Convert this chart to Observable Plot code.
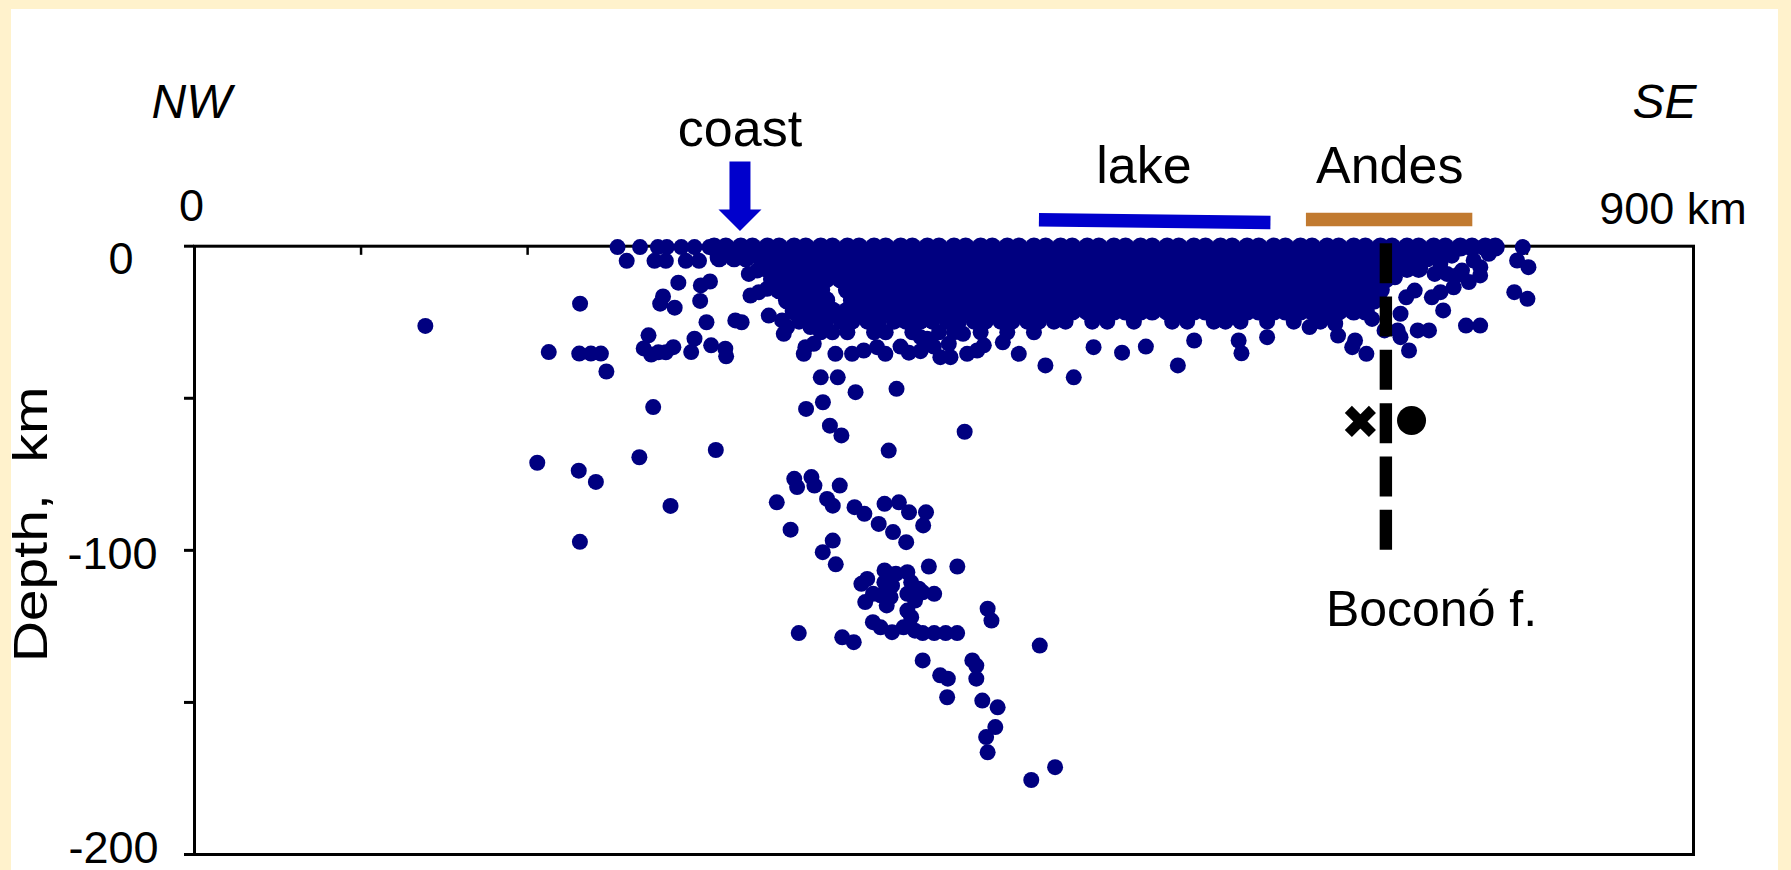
<!DOCTYPE html>
<html>
<head>
<meta charset="utf-8">
<script src="https://cdn.jsdelivr.net/npm/d3@7"></script>
<script src="https://cdn.jsdelivr.net/npm/@observablehq/plot@0.6"></script>
<style>
  html, body { margin: 0; padding: 0; background: #fff2cc; }
  #chart { padding: 9px 0 0 11px; }
  svg text { white-space: pre; }
</style>
</head>
<body>
<div id="chart"></div>
<script>
// ---------- axis values ----------
const distTicks = [100, 200, 300, 400, 500, 600, 700, 800];
const depthTicks = [0, -50, -100, -150, -200];

// ---------- sparse hypocentres: distance along profile (km), depth (km) ----------
const sparseDist = [
  138.6, 231.5, 212.7, 231.0, 238.0, 244.0, 247.3, 272.6, 269.7, 274.2, 278.5, 283.0, 287.5,
  281.3, 279.6, 288.3, 290.5, 303.6, 304.0, 309.5, 307.4, 300.2, 298.2, 310.2, 318.7, 319.2,
  275.4, 324.7, 328.5, 333.8, 338.8, 343.8, 332.8, 337.8, 344.8, 353.8, 355.8, 352.8, 367.8,
  371.8, 375.8, 369.8, 366.8, 365.8, 371.8, 376.0, 386.2, 396.9, 421.5, 367.2, 377.3, 381.5,
  388.4, 416.8, 384.8, 394.8, 401.8, 409.8, 414.8, 423.9, 428.9, 435.9, 443.9, 453.9, 463.9,
  469.9, 473.9, 494.9, 510.9, 431.9, 435.9, 439.9, 452.9, 447.8, 461.4, 485.3, 527.9, 539.8,
  556.9, 571.2, 590.4, 600.2, 626.9, 628.6, 644.0, 669.5, 676.3, 684.9, 686.6, 695.1, 696.8,
  703.6, 707.0, 714.5, 462.4, 267.1, 313.0, 205.8, 230.7, 241.0, 285.8, 231.4,
  254.0, 267.5, 278.2, 283.6, 292.3, 300.2, 309.2, 259.5, 276.2, 283.0, 295.0, 302.9,
  720.7, 727.5, 732.6, 724.1, 722.4, 729.2, 724.1, 734.4, 741.2, 742.9, 748.1, 749.7, 756.0,
  763.4, 771.9, 744.6, 752.0, 748.0, 754.9, 761.0, 758.0, 765.1, 771.9, 768.0, 772.0, 777.1,
  797.5, 794.1, 800.9, 792.4, 800.3
];
const sparseDepth = [
  -26.2, -18.9, -34.8, -35.3, -35.3, -35.3, -41.2, -29.3, -33.6, -35.6, -34.9, -34.9, -33.2,
  -16.5, -18.9, -20.2, -12.0, -18.0, -12.9, -11.6, -25.0, -30.4, -34.8, -32.6, -33.7, -36.2,
  -52.9, -24.4, -25.0, -16.2, -15.1, -14.0, -9.1, -8.0, -22.8, -28.8, -26.6, -24.4, -22.2,
  -24.4, -26.6, -26.6, -33.2, -35.4, -32.1, -43.1, -43.1, -48.0, -46.9, -53.5, -51.3, -59.0,
  -62.2, -67.2, -35.4, -35.4, -34.3, -33.2, -35.4, -33.0, -35.0, -34.5, -33.0, -36.5, -35.4,
  -34.3, -32.6, -35.4, -39.2, -27.7, -29.9, -30.4, -32.1, -36.5, -28.8, -31.6, -43.1, -33.2,
  -35.0, -33.0, -39.2, -31.0, -31.0, -35.2, -29.9, -26.6, -24.4, -25.5, -29.4, -33.2, -31.0,
  -35.4, -23.9, -27.7, -61.0, -69.4, -67.0, -71.2, -73.8, -77.5, -85.4, -97.2,
  -0.3, -0.3, -0.3, -0.3, -0.3, -0.3, -0.3, -4.8, -4.8, -4.8, -4.8, -4.8,
  -10.2, -16.8, -14.6, -22.2, -27.7, -34.3, -29.9, -27.7, -27.7, -16.8, -15.1, -21.1, -13.5,
  -26.1, -26.1, -9.1, -9.1, -5.8, -3.1, -8.0, -9.6, -11.8, -9.6, -4.7, -6.9, -2.5,
  -0.3, -4.7, -6.9, -15.1, -17.3
];

// ---------- subducting slab (intermediate-depth events) ----------
const slabDist = [
  360.1, 370.4, 361.8, 372.2, 387.4, 349.6, 379.8, 383.2, 357.9, 396.3, 402.2, 410.8, 419.4,
  414.3, 422.9, 383.2, 377.2, 385.0, 400.4, 403.9, 407.4, 414.3, 421.1, 429.0, 439.2, 437.5,
  427.3, 440.9, 458.0, 428.0, 430.3, 434.9, 428.0, 444.1, 437.2, 432.6, 428.0, 430.3, 425.7,
  432.6, 416.5, 414.2, 418.8, 411.9, 415.6, 417.9, 402.7, 407.3, 411.9, 418.8, 437.2, 444.1,
  451.0, 457.9, 362.8, 388.9, 395.8, 476.2, 478.5, 507.5, 437.2, 467.0, 469.4, 469.4, 447.7,
  452.3, 451.9, 473.0, 482.2, 480.8, 475.3, 476.2, 516.7, 502.4
];
const slabDepth = [
  -76.5, -75.9, -79.2, -78.7, -78.7, -84.2, -83.1, -85.3, -93.2, -85.8, -88.0, -91.3, -94.0,
  -84.7, -84.2, -96.8, -100.6, -104.6, -111.0, -109.4, -114.3, -106.6, -107.7, -87.5, -87.5, -91.8,
  -97.3, -105.3, -105.3, -107.2, -110.5, -112.6, -114.3, -114.3, -113.8, -116.5, -119.8, -122.0, -125.3,
  -126.4, -107.7, -110.5, -111.6, -114.8, -118.1, -115.4, -117.0, -123.6, -125.3, -126.9, -127.2, -127.2,
  -127.2, -127.2, -127.2, -128.6, -130.2, -119.2, -123.1, -131.3, -136.2, -136.2, -137.9, -142.2, -141.1,
  -142.2, -148.3, -149.4, -151.6, -158.1, -161.4, -166.4, -171.3, -175.5
];

// ---------- dense crustal band: distances of events, one list per depth row ----------
const bandDepths = [-0.3, -3.8, -7.3, -10.8, -14.3, -17.8, -21.3];
const bandRowA = [312, 319, 328, 335, 344, 351, 360, 367, 376, 383, 392, 399, 408, 415, 424, 431, 440, 447, 456, 463, 472, 479, 488, 495, 504, 511, 520, 527, 536, 543, 552, 559, 568, 575, 584, 591, 600, 607, 616, 623, 632, 639, 648, 655, 664, 671, 680, 687, 696, 703, 712, 719, 728, 735, 744, 751, 760, 767, 775, 781];
const bandRowB = [315, 324, 331, 340, 347, 356, 363, 372, 379, 388, 395, 404, 411, 420, 427, 436, 443, 452, 459, 468, 475, 484, 491, 500, 507, 516, 523, 532, 539, 548, 555, 564, 571, 580, 587, 596, 603, 612, 619, 628, 635, 644, 651, 660, 667, 676, 683, 692, 699, 708, 715, 724, 731, 740, 747];
const bandRowC = [344, 351, 360, 367, 376, 383, 392, 399, 408, 415, 424, 431, 440, 447, 456, 463, 472, 479, 488, 495, 504, 511, 520, 527, 536, 543, 552, 559, 568, 575, 584, 591, 600, 607, 616, 623, 632, 639, 648, 655, 664, 671, 680, 687, 696, 703, 712, 719, 728, 735];
const bandRowD = [347, 356, 363, 372, 379, 388, 395, 404, 411, 420, 427, 436, 443, 452, 459, 468, 475, 484, 491, 500, 507, 516, 523, 532, 539, 548, 555, 564, 571, 580, 587, 596, 603, 612, 619, 628, 635, 644, 651, 660, 667, 676, 683, 692, 699, 708, 715];
const bandRowE = [351, 360, 367, 376, 392, 399, 408, 415, 424, 431, 440, 447, 456, 463, 472, 479, 488, 495, 504, 511, 520, 527, 536, 543, 552, 559, 568, 575, 584, 591, 600, 607, 616, 623, 632, 639, 648, 655, 664, 671, 680, 687, 696, 703, 712];
const bandRowF = [356, 363, 372, 379, 395, 404, 411, 420, 427, 436, 443, 452, 459, 468, 475, 484, 491, 500, 507, 516, 523, 532, 539, 548, 555, 564, 571, 580, 587, 596, 603, 612, 619, 628, 635, 644, 651, 660, 667, 676, 683, 692, 699, 708];
const bandRowG = [360, 367, 376, 383, 392, 399, 408, 415, 424, 431, 440, 447, 456, 463, 472, 479, 488, 495, 504, 511, 520, 527, 536, 543, 552, 559, 568, 575, 584, 591, 600, 607, 616, 623, 632, 639, 648, 655, 664, 671, 680, 687, 696, 703];
const bandRows = [bandRowA, bandRowB, bandRowC, bandRowD, bandRowE, bandRowF, bandRowG];
// ragged lower fringe of the band
const fringeDepths = [-24.8, -28.3];
const fringeRowH = [363, 372, 379, 388, 395, 404, 411, 420, 427, 436, 443, 452, 459, 468, 475, 484, 491, 500, 507, 516, 523, 539, 548, 564, 587, 596, 612, 619, 628, 644, 660, 676];
const fringeRowI = [376, 383, 392, 408, 415, 431, 447, 456, 472, 488, 504];
const fringeRows = [fringeRowH, fringeRowI];

// ---------- annotations ----------
const coastDist = 327.5;
const rangeNames = ["lake", "Andes"];
const rangeStart = [507, 667.6];
const rangeEnd = [646, 767.5];
const rangeLevelStart = [8.7, 8.8];
const rangeLevelEnd = [7.8, 8.8];
const rangeLabelDist = [570, 717.6];
const rangeColors = ["#0000cc", "#c17a30"];
const faultName = "Boconó f.";
const faultDist = 715.3;
const faultTop = 0.8, faultBottom = -100.2;
const faultLabelDist = 742.7, faultLabelDepth = -125;
const stationMarks = [
  {dist: 700.0, depth: -57.6, kind: "cross"},
  {dist: 730.7, depth: -57.3, kind: "dot"}
];
const directionNames = ["NW", "SE"];
const directionDist = [-1.8, 882.6];
const depthTitle = "Depth,  km";

// build tables for the library
const quakes = [
  ...sparseDist.map((x, i) => ({x, d: sparseDepth[i]})),
  ...slabDist.map((x, i) => ({x, d: slabDepth[i]})),
  ...fringeRows.flatMap((row, j) => row.map(x => ({x, d: fringeDepths[j]})))
];
const bandQuakes = bandRows.flatMap((row, j) => row.map(x => ({x, d: bandDepths[j]})));
const lakeLine = [
  {x: rangeStart[0], y: rangeLevelStart[0]},
  {x: rangeEnd[0], y: rangeLevelEnd[0]}
];
const andesBar = [{x1: rangeStart[1], x2: rangeEnd[1], y: rangeLevelStart[1]}];

const arrowShape = {
  draw(context, l) {
    const shaft = 10.5, head = 21.5, headLen = 21.5;
    context.moveTo(-shaft, 0);
    context.lineTo(-shaft, -(l - headLen));
    context.lineTo(-head, -(l - headLen));
    context.lineTo(0, -l);
    context.lineTo(head, -(l - headLen));
    context.lineTo(shaft, -(l - headLen));
    context.lineTo(shaft, 0);
    context.closePath();
  }
};

const font = "'Liberation Sans', Arial, Helvetica, sans-serif";
const labelFmt = d => `${d}`;
const quakeColor = "#000080";

const chart = Plot.plot({
  width: 1767,
  height: 861,
  marginLeft: 183,
  marginRight: 85,
  marginTop: 236.7,
  marginBottom: 16,
  style: {background: "#ffffff", fontFamily: font, color: "#000", overflow: "visible"},
  x: {domain: [0, 900], label: null},
  y: {domain: [-200, 0], label: null},
  marks: [
    Plot.frame({stroke: "#000", strokeWidth: 3}),
    Plot.ruleX(distTicks, {y1: 0, y2: -3, stroke: "#000", strokeWidth: 2.5}),
    Plot.ruleY(depthTicks, {x1: 0, x2: -6, stroke: "#000", strokeWidth: 3}),
    Plot.axisX([0], {anchor: "top", tickSize: 0, tickPadding: 25.7, dx: -3, fontSize: 45, tickFormat: labelFmt, label: null}),
    Plot.axisX([900], {anchor: "top", tickSize: 0, tickPadding: 22.7, dx: -20.5, fontSize: 45, tickFormat: d => `${d} km`, label: null}),
    Plot.axisY([0], {anchor: "left", tickSize: 0, tickPadding: 61, dy: 13, fontSize: 45, tickFormat: labelFmt, label: null}),
    Plot.axisY([-100], {anchor: "left", tickSize: 0, tickPadding: 37, dy: 4, fontSize: 45, tickFormat: labelFmt, label: null}),
    Plot.axisY([-200], {anchor: "left", tickSize: 0, tickPadding: 36, dy: -6, fontSize: 45, tickFormat: labelFmt, label: null}),
    Plot.dot(bandQuakes, {x: "x", y: "d", r: 9.5, fill: quakeColor, stroke: "none"}),
    Plot.dot(quakes, {x: "x", y: "d", r: 8, fill: quakeColor, stroke: "none"}),
    Plot.line(lakeLine, {x: "x", y: "y", stroke: rangeColors[0], strokeWidth: 13.4, strokeLinecap: "butt"}),
    Plot.ruleY(andesBar, {x1: "x1", x2: "x2", y: "y", stroke: rangeColors[1], strokeWidth: 13.4}),
    Plot.ruleX([faultDist], {y1: faultTop, y2: faultBottom, stroke: "#000", strokeWidth: 12.4, strokeDasharray: "40,13.3"}),
    Plot.dot(stationMarks.filter(d => d.kind === "cross"), {x: "dist", y: "depth", symbol: "times", r: 11, stroke: "#000", strokeWidth: 10}),
    Plot.dot(stationMarks.filter(d => d.kind === "dot"), {x: "dist", y: "depth", r: 14.5, fill: "#000", stroke: "none"}),
    Plot.vector([coastDist], {x: d => d, y: 27.85, length: 69.5, rotate: 180, anchor: "start", shape: arrowShape, fill: "#0000cc", stroke: "none"}),
    Plot.text(["coast"], {x: coastDist, y: 33.1, fontSize: 52, lineAnchor: "bottom", fill: "#000"}),
    Plot.text(rangeNames, {x: (d, i) => rangeLabelDist[i], y: 20.9, fontSize: 52, lineAnchor: "bottom", fill: "#000"}),
    Plot.text(directionNames, {x: (d, i) => directionDist[i], y: 42.3, fontSize: 48, fontStyle: "italic", lineAnchor: "bottom", fill: "#000"}),
    Plot.text([faultName], {x: faultLabelDist, y: faultLabelDepth, fontSize: 50, lineAnchor: "bottom", fill: "#000"}),
    Plot.text([depthTitle], {frameAnchor: "left", textAnchor: "middle", dx: -148, dy: -26, rotate: -90, fontSize: 49, lineAnchor: "bottom", fill: "#000"})
  ]
});
// the reference's axis title is drawn stretched along its length
d3.select(chart).selectAll("text").filter(function () { return this.textContent === depthTitle; })
  .attr("textLength", 276).attr("lengthAdjust", "spacingAndGlyphs");
document.getElementById("chart").appendChild(chart);
</script>
</body>
</html>
